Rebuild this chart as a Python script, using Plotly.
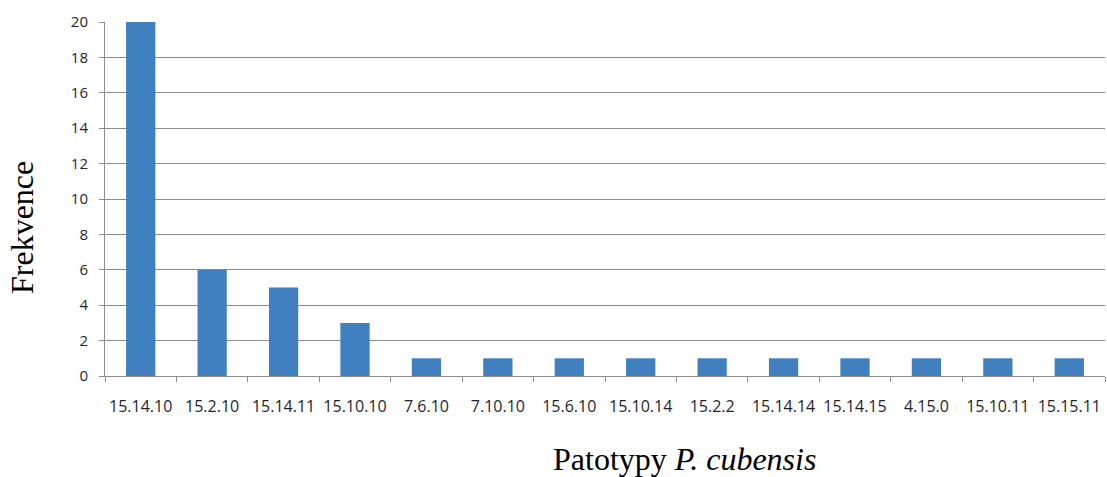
import plotly.graph_objects as go

categories = ["15.14.10", "15.2.10", "15.14.11", "15.10.10", "7.6.10", "7.10.10", "15.6.10",
              "15.10.14", "15.2.2", "15.14.14", "15.14.15", "4.15.0", "15.10.11", "15.15.11"]
values = [20, 6, 5, 3, 1, 1, 1, 1, 1, 1, 1, 1, 1, 1]
y_ticks = [0, 2, 4, 6, 8, 10, 12, 14, 16, 18, 20]

W, H = 1107, 477
ml, mr, mt, mb = 105, 2, 22, 101

fig = go.Figure(go.Bar(x=categories, y=values, marker=dict(color="#4080C0", line=dict(width=0)),
                       width=0.41))

fig.update_layout(
    width=W, height=H,
    margin=dict(l=ml, r=mr, t=mt, b=mb),
    plot_bgcolor="white", paper_bgcolor="white",
    showlegend=False,
    font=dict(family="Open Sans, Liberation Sans, sans-serif", size=16, color="#1f1f30"),
)
fig.update_xaxes(
    type="category", showgrid=False, showline=True, linecolor="#8c8c8c", linewidth=1,
    ticks="outside", ticklen=5, tickcolor="#8c8c8c", tickson="boundaries",
    ticklabelstandoff=16, tickfont=dict(size=16), tickangle=0, automargin=False,
    range=[-0.5, 13.5],
)
fig.update_yaxes(
    range=[0, 20], tickvals=y_ticks, showgrid=True, gridcolor="#8c8c8c", gridwidth=1,
    showline=True, linecolor="#8c8c8c", linewidth=1, ticks="outside", ticklen=5,
    tickcolor="#8c8c8c", ticklabelstandoff=8, tickfont=dict(size=15), zeroline=False,
    automargin=False,
)
serif = dict(family="Liberation Serif, Times New Roman, serif", size=32, color="black")
fig.add_annotation(text="Frekvence", x=-(ml - 22) / (W - ml - mr), xref="paper", xanchor="center",
                   y=(H - mb - 228) / (H - mt - mb), yref="paper", yanchor="middle",
                   showarrow=False, textangle=-90, font=serif)
fig.add_annotation(text="Patotypy <i>P. cubensis</i>", x=(684 - ml) / (W - ml - mr), xref="paper",
                   y=-(459 - (H - mb)) / (H - mt - mb), yref="paper",
                   showarrow=False, yanchor="middle", xanchor="center", font=serif)

fig.write_html("out.html")
